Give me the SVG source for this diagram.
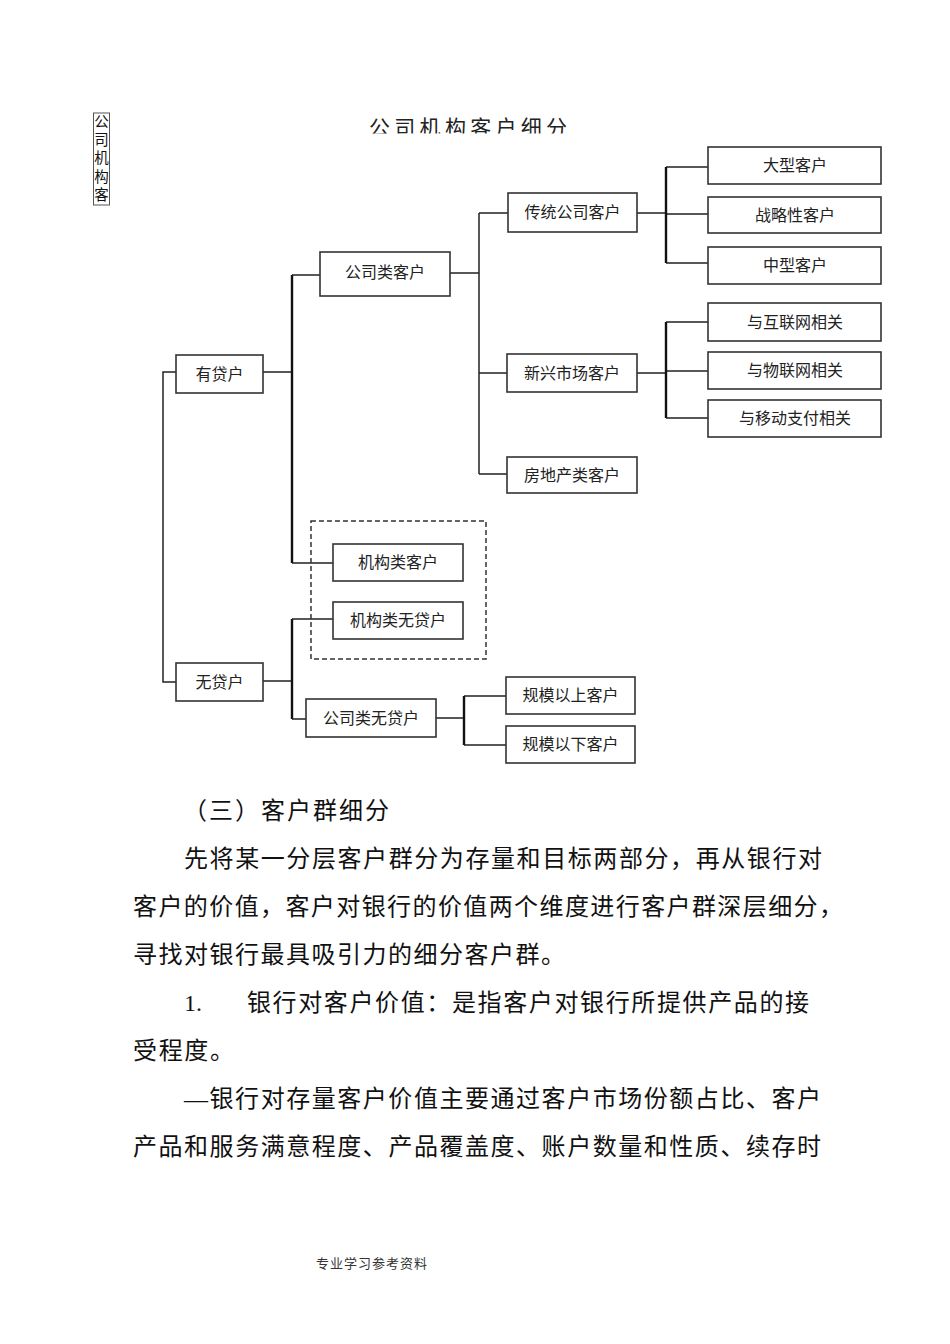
<svg xmlns="http://www.w3.org/2000/svg" width="950" height="1344" viewBox="0 0 950 1344">
<style>
.box{fill:#fff;stroke:#333;stroke-width:1.6}
.bt{font-family:"Liberation Serif","Noto Sans CJK SC",serif;font-size:16px;fill:#222;text-anchor:middle;dominant-baseline:central}
.c{fill:none;stroke:#222;stroke-width:1.5}
.ct{fill:none;stroke:#111;stroke-width:2.4}
.p{font-family:"Liberation Serif","Noto Sans CJK SC",serif;font-size:24px;fill:#111}
</style>
<defs><clipPath id="tc"><rect x="300" y="100" width="350" height="33.5"/></clipPath></defs>
<rect width="950" height="1344" fill="#fff"/>
<g id="sidebar">
<rect x="93.5" y="113" width="16" height="92" fill="none" stroke="#555" stroke-width="1"/>
<text x="101.5" y="114" writing-mode="tb" font-family="Noto Sans CJK SC,sans-serif" font-size="14.5" letter-spacing="3.8" fill="#111">公司机构客</text>
</g>
<g id="title" clip-path="url(#tc)">
<text x="369" y="135" font-family="Noto Sans CJK SC,sans-serif" font-size="21" letter-spacing="4.3" fill="#222">公司机构客户细分</text>
</g>
<g id="connectors">
<path class="c" d="M176,372 H163 V682 H176"/>
<path class="c" d="M263,372 H292 M292,275 H320 M292,563 H333"/>
<path class="ct" d="M292,275 V563"/>
<path class="c" d="M450,273 H479 M479,213 V474 M479,213 H508 M479,373 H507 M479,474 H507"/>
<path class="c" d="M637,213 H666 M666,167 H708 M666,214 H708 M666,263 H708"/>
<path class="ct" d="M666,167 V263"/>
<path class="c" d="M637,373 H666 M666,322 H708 M666,371 H708 M666,418 H708"/>
<path class="ct" d="M666,322 V418"/>
<path class="c" d="M263,681 H292 M292,619 H333 M292,719 H306"/>
<path class="ct" d="M292,619 V719"/>
<path class="c" d="M436,718 H464 M464,696 H506 M464,745 H506"/>
<path class="ct" d="M464,696 V745"/>
</g>
<g id="dashed-group"><rect x="311" y="521" width="175" height="138" fill="none" stroke="#333" stroke-width="1.5" stroke-dasharray="5,3"/></g>
<g id="n-youdai"><rect class="box" x="176" y="355" width="87" height="38"/><text class="bt" x="219.5" y="374">有贷户</text></g>
<g id="n-wudai"><rect class="box" x="176" y="663" width="87" height="38"/><text class="bt" x="219.5" y="682">无贷户</text></g>
<g id="n-gongsilei"><rect class="box" x="320" y="252" width="130" height="44"/><text class="bt" x="385" y="272">公司类客户</text></g>
<g id="n-chuantong"><rect class="box" x="508" y="193" width="129" height="39"/><text class="bt" x="572.5" y="212.5">传统公司客户</text></g>
<g id="n-xinxing"><rect class="box" x="507" y="354" width="130" height="38"/><text class="bt" x="572" y="373">新兴市场客户</text></g>
<g id="n-fangdichan"><rect class="box" x="507" y="457" width="130" height="36"/><text class="bt" x="572" y="475">房地产类客户</text></g>
<g id="n-daxing"><rect class="box" x="708" y="147" width="173" height="37"/><text class="bt" x="795" y="165.5">大型客户</text></g>
<g id="n-zhanlue"><rect class="box" x="708" y="197" width="173" height="36"/><text class="bt" x="795" y="215">战略性客户</text></g>
<g id="n-zhongxing"><rect class="box" x="708" y="247" width="173" height="37"/><text class="bt" x="795" y="265.5">中型客户</text></g>
<g id="n-hulianwang"><rect class="box" x="708" y="303" width="173" height="38"/><text class="bt" x="795" y="322">与互联网相关</text></g>
<g id="n-wulianwang"><rect class="box" x="708" y="352" width="173" height="37"/><text class="bt" x="795" y="370.5">与物联网相关</text></g>
<g id="n-yidong"><rect class="box" x="708" y="400" width="173" height="37"/><text class="bt" x="795" y="418.5">与移动支付相关</text></g>
<g id="n-jigoulei"><rect class="box" x="333" y="544" width="130" height="37"/><text class="bt" x="398" y="562.5">机构类客户</text></g>
<g id="n-jigouwudai"><rect class="box" x="333" y="602" width="130" height="37"/><text class="bt" x="398" y="620.5">机构类无贷户</text></g>
<g id="n-gongsiwudai"><rect class="box" x="306" y="699" width="130" height="38"/><text class="bt" x="371" y="718">公司类无贷户</text></g>
<g id="n-guimoshang"><rect class="box" x="506" y="677" width="129" height="37"/><text class="bt" x="570.5" y="695.5">规模以上客户</text></g>
<g id="n-guimoxia"><rect class="box" x="506" y="726" width="129" height="37"/><text class="bt" x="570.5" y="744.5">规模以下客户</text></g>
<g id="body">
<text class="p" x="183" y="819" textLength="206" lengthAdjust="spacing">（三）客户群细分</text>
<text class="p" x="184" y="867" textLength="638" lengthAdjust="spacing">先将某一分层客户群分为存量和目标两部分，再从银行对</text>
<text class="p" x="133" y="915" textLength="710" lengthAdjust="spacing">客户的价值，客户对银行的价值两个维度进行客户群深层细分，</text>
<text class="p" x="133" y="963" textLength="432" lengthAdjust="spacing">寻找对银行最具吸引力的细分客户群。</text>
<text class="p" x="184" y="1011">1.</text>
<text class="p" x="247" y="1011" textLength="562" lengthAdjust="spacing">银行对客户价值：是指客户对银行所提供产品的接</text>
<text class="p" x="133" y="1059" textLength="101" lengthAdjust="spacing">受程度。</text>
<text class="p" x="184" y="1107" textLength="637" lengthAdjust="spacing">—银行对存量客户价值主要通过客户市场份额占比、客户</text>
<text class="p" x="133" y="1155" textLength="688" lengthAdjust="spacing">产品和服务满意程度、产品覆盖度、账户数量和性质、续存时</text>
</g>
<g id="footer"><text x="316" y="1268" font-family="Noto Sans CJK SC,sans-serif" font-size="13" letter-spacing="1" fill="#333">专业学习参考资料</text></g>
</svg>
